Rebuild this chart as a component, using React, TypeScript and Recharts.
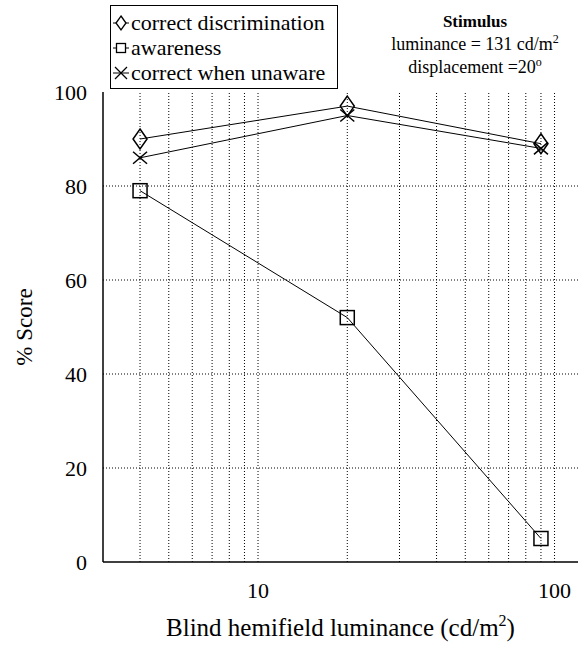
import React from 'react';
import { LineChart, Line, XAxis, YAxis, ReferenceLine } from 'recharts';

// blind hemifield luminance (cd/m2) and % scores
const luminance = [4, 20, 90];
const discrimination = [90, 97, 89];
const awareness = [79, 52, 5];
const unawareCorrect = [86, 95, 88];

const xTicks = [10, 100];
const xGrid = [4, 5, 6, 7, 8, 9, 10, 20, 30, 40, 50, 60, 70, 80, 90, 100];
const yTicks = [0, 20, 40, 60, 80, 100];
const yGrid = [20, 40, 60, 80];
const yMinor = [0, 5, 10, 15, 20, 25, 30, 35, 40, 45, 50, 55, 60, 65, 70, 75, 80, 85, 90, 95, 100];

const data = luminance.map((lum, i) => ({
  lum,
  disc: discrimination[i],
  aware: awareness[i],
  unaware: unawareCorrect[i],
}));

const FONT = 'Liberation Serif, DejaVu Serif, serif';
const X_DOMAIN: [number, number] = [3, 120];

const Diamond = (props: any) => {
  const { cx, cy, index } = props;
  return (
    <polygon
      key={'d' + index}
      points={`${cx},${cy - 10} ${cx + 7},${cy} ${cx},${cy + 10} ${cx - 7},${cy}`}
      fill="none"
      stroke="#000"
      strokeWidth={1.5}
    />
  );
};

const Square = (props: any) => {
  const { cx, cy, index } = props;
  return <rect key={'s' + index} x={cx - 7} y={cy - 7} width={14} height={14} fill="none" stroke="#000" strokeWidth={1.5} />;
};

const Cross = (props: any) => {
  const { cx, cy, index } = props;
  return (
    <g key={'c' + index} stroke="#000" strokeWidth={1.5}>
      <line x1={cx - 7} y1={cy - 6} x2={cx + 7} y2={cy + 6} />
      <line x1={cx - 7} y1={cy + 6} x2={cx + 7} y2={cy - 6} />
    </g>
  );
};

const XTitle = (p: any) => {
  const vb = p.viewBox;
  return (
    <text x={vb.x + vb.width / 2} y={636} textAnchor="middle" fontFamily={FONT} fontSize={25} fill="#000">
      Blind hemifield luminance (cd/m
      <tspan dy={-10} fontSize={16}>2</tspan>
      <tspan dy={10}>)</tspan>
    </text>
  );
};

const YTitle = (p: any) => {
  const vb = p.viewBox;
  const cx = 24;
  const cy = vb.y + vb.height / 2;
  return (
    <text x={cx} y={cy} transform={`rotate(-90 ${cx} ${cy})`} textAnchor="middle" dominantBaseline="central" fontFamily={FONT} fontSize={23} fill="#000">
      % Score
    </text>
  );
};

const LegendSymbol = ({ kind }: { kind: string }) => (
  <svg width={18} height={20} style={{ display: 'block', marginRight: 1 }}>
    <line x1={1} y1={10} x2={17} y2={10} stroke="#000" strokeWidth={1} />
    {kind === 'diamond' && <polygon points="9,3 14,10 9,17 4,10" fill="#fff" stroke="#000" strokeWidth={1.3} />}
    {kind === 'square' && <rect x={4.5} y={5.5} width={9} height={9} fill="#fff" stroke="#000" strokeWidth={1.3} />}
    {kind === 'cross' && (
      <g stroke="#000" strokeWidth={1.3}>
        <line x1={3} y1={4} x2={15} y2={16} />
        <line x1={3} y1={16} x2={15} y2={4} />
      </g>
    )}
  </svg>
);

const legendItems = [
  { kind: 'diamond', label: 'correct discrimination' },
  { kind: 'square', label: 'awareness' },
  { kind: 'cross', label: 'correct when unaware' },
];

export default function App() {
  return (
    <div style={{ position: 'absolute', left: 0, top: 0, width: 584, height: 646, background: '#fff' }}>
      <LineChart width={584} height={646} data={data} margin={{ top: 92, right: 6, bottom: 0, left: 0 }}>
        {xGrid.map((v) => (
          <ReferenceLine key={'gx' + v} x={v} stroke="#000" strokeDasharray="1 2" />
        ))}
        {yGrid.map((v) => (
          <ReferenceLine key={'gy' + v} y={v} stroke="#000" strokeDasharray="1 2" />
        ))}
        <XAxis
          dataKey="lum"
          type="number"
          scale="log"
          domain={X_DOMAIN}
          allowDataOverflow
          ticks={xTicks}
          interval={0}
          tickLine={false}
          tickSize={0}
          tickMargin={20}
          height={84}
          axisLine={{ stroke: '#000', strokeWidth: 1.5 }}
          tick={{ fill: '#000', fontSize: 22, fontFamily: FONT }}
          label={{ content: XTitle }}
        />
        <XAxis
          xAxisId="minor"
          dataKey="lum"
          type="number"
          scale="log"
          domain={X_DOMAIN}
          allowDataOverflow
          ticks={xGrid}
          interval={0}
          mirror
          height={0}
          axisLine={false}
          tickSize={5}
          tickLine={{ stroke: '#000' }}
          tickFormatter={() => ''}
        />
        <XAxis
          xAxisId="top"
          orientation="top"
          dataKey="lum"
          type="number"
          scale="log"
          domain={X_DOMAIN}
          allowDataOverflow
          mirror
          height={0}
          axisLine={{ stroke: '#000', strokeWidth: 1.5 }}
          tick={false}
          tickLine={false}
        />
        <YAxis
          type="number"
          domain={[0, 100]}
          ticks={yTicks}
          interval={0}
          width={103}
          tickLine={false}
          tickSize={0}
          tickMargin={16}
          axisLine={{ stroke: '#000', strokeWidth: 1.5 }}
          tick={{ fill: '#000', fontSize: 22, fontFamily: FONT }}
          label={{ content: YTitle }}
        />
        <YAxis
          yAxisId="minor"
          type="number"
          domain={[0, 100]}
          ticks={yMinor}
          interval={0}
          mirror
          width={0}
          axisLine={false}
          tickSize={6}
          tickLine={{ stroke: '#000' }}
          tickFormatter={() => ''}
        />
        <YAxis
          yAxisId="right"
          orientation="right"
          type="number"
          domain={[0, 100]}
          ticks={yMinor}
          interval={0}
          mirror
          width={0}
          axisLine={{ stroke: '#000', strokeWidth: 1.5 }}
          tickSize={6}
          tickLine={{ stroke: '#000' }}
          tickFormatter={() => ''}
        />
        <Line dataKey="aware" type="linear" stroke="#000" strokeWidth={1} dot={Square} activeDot={false} isAnimationActive={false} />
        <Line dataKey="unaware" type="linear" stroke="#000" strokeWidth={1} dot={Cross} activeDot={false} isAnimationActive={false} />
        <Line dataKey="disc" type="linear" stroke="#000" strokeWidth={1} dot={Diamond} activeDot={false} isAnimationActive={false} />
      </LineChart>

      <div
        style={{
          position: 'absolute',
          left: 110,
          top: 5,
          width: 228,
          height: 84,
          boxSizing: 'border-box',
          border: '1.5px solid #000',
          paddingTop: 4,
          paddingLeft: 1,
          fontFamily: FONT,
          fontSize: 22,
          lineHeight: '25px',
          color: '#000',
          background: '#fff',
        }}
      >
        {legendItems.map((it) => (
          <div key={it.label} style={{ display: 'flex', alignItems: 'center', whiteSpace: 'nowrap' }}>
            <LegendSymbol kind={it.kind} />
            <span>{it.label}</span>
          </div>
        ))}
      </div>

      <div
        style={{
          position: 'absolute',
          left: 375,
          top: 10,
          width: 200,
          textAlign: 'center',
          fontFamily: FONT,
          fontSize: 18,
          lineHeight: '23px',
          color: '#000',
        }}
      >
        <div style={{ fontWeight: 'bold', fontSize: 17 }}>Stimulus</div>
        <div>
          luminance = 131 cd/m<sup style={{ fontSize: 12, lineHeight: 0 }}>2</sup>
        </div>
        <div>
          displacement =20<sup style={{ fontSize: 12, lineHeight: 0 }}>o</sup>
        </div>
      </div>
    </div>
  );
}
